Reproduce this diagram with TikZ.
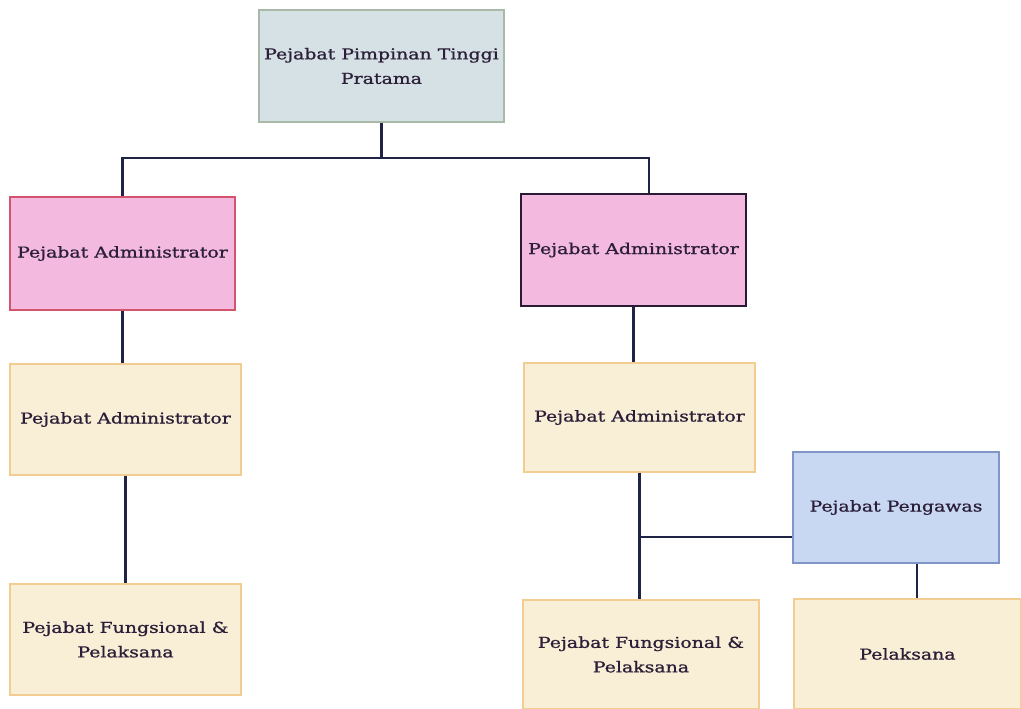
\documentclass[tikz,border=0pt]{standalone}
\usepackage{fontspec}
\setmainfont{DejaVu Serif}
\newfontfamily\boxfont[FakeStretch=1.26,FakeBold=0.9]{DejaVu Serif}
\definecolor{linec}{HTML}{1F2345}
\definecolor{topfill}{HTML}{D5E1E4}
\definecolor{topdraw}{HTML}{A9B9A8}
\definecolor{pinkfill}{HTML}{F3B9DE}
\definecolor{pinkdrawA}{HTML}{D4546E}
\definecolor{pinkdrawB}{HTML}{2A1A35}
\definecolor{beigefill}{HTML}{F9EED6}
\definecolor{beigedraw}{HTML}{F1CD92}
\definecolor{bluefill}{HTML}{C9D8F2}
\definecolor{bluedraw}{HTML}{8196C8}
\definecolor{txtc}{HTML}{2B1E38}
\begin{document}
\begin{tikzpicture}[x=1pt,y=-1pt,
  box/.style={rectangle, line width=1.3pt, align=center, inner sep=2pt,
    font=\boxfont\fontsize{15}{24.5}\selectfont, text=txtc},
  topbox/.style={box, fill=topfill, draw=topdraw},
  pinkA/.style={box, fill=pinkfill, draw=pinkdrawA},
  pinkB/.style={box, fill=pinkfill, draw=pinkdrawB},
  beige/.style={box, fill=beigefill, draw=beigedraw},
  bluebox/.style={box, fill=bluefill, draw=bluedraw},
  conn/.style={draw=linec, line width=2.1pt}]
\useasboundingbox[fill=white] (0,0) rectangle (1021,709);
\node[topbox, minimum width=245pt, minimum height=112pt] (top) at (381.5,66) {Pejabat Pimpinan Tinggi\\Pratama};
\node[pinkA, minimum width=225pt, minimum height=113pt] (LA) at (122.5,253.5) {Pejabat Administrator};
\node[pinkB, minimum width=225pt, minimum height=112pt] (RA) at (633.5,250) {Pejabat Administrator};
\node[beige, minimum width=231pt, minimum height=111pt] (LB) at (125.5,419.5) {Pejabat Administrator};
\node[beige, minimum width=231pt, minimum height=109pt] (RB) at (639.5,417.5) {Pejabat Administrator};
\node[beige, minimum width=231pt, minimum height=111pt] (LF) at (125.5,639.5) {Pejabat Fungsional \&\\Pelaksana};
\node[bluebox, minimum width=206pt, minimum height=111pt] (PG) at (896,507.5) {Pejabat Pengawas};
\node[beige, minimum width=236pt, minimum height=109pt] (RF) at (641,654.5) {Pejabat Fungsional \&\\Pelaksana};
\node[beige, minimum width=227pt, minimum height=110pt] (PL) at (907.5,654) {Pelaksana};
\coordinate (hb) at (383,158);
\coordinate (ra1) at (649,158);
\coordinate (j) at (640,537);
\draw[conn] (top.south) -- (top.south |- hb);
\draw[conn] (LA.north) |- (ra1) -- (ra1 |- RA.north);
\draw[conn] (LA.south) -- (LA.south |- LB.north);
\draw[conn] (LB.south) -- (LB.south |- LF.north);
\draw[conn] (RA.south) -- (RA.south |- RB.north);
\draw[conn] (RB.south) -- (RB.south |- RF.north);
\draw[conn] (j) -- (j -| PG.west);
\draw[conn] ([xshift=21pt]PG.south) -- ([xshift=21pt]PG.south |- PL.north);
\end{tikzpicture}
\end{document}
